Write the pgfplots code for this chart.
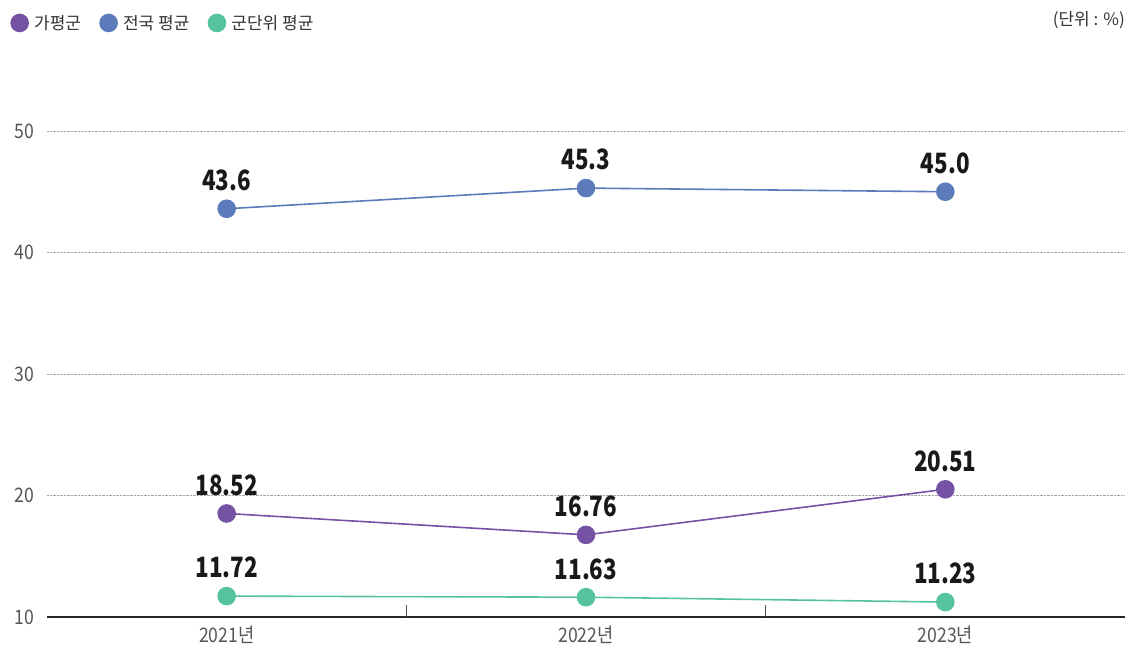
\documentclass[border=0pt]{standalone}
\usepackage{fontspec}
\setmainfont{Noto Sans CJK KR}
\newfontfamily\labelfont[FakeStretch=0.8]{Noto Sans CJK KR}
\newfontfamily\tickfont[FakeStretch=0.88]{Noto Sans CJK KR}
\usepackage{pgfplots}
\pgfplotsset{compat=1.18}
\definecolor{cpurple}{RGB}{117,82,163}
\definecolor{cblue}{RGB}{91,123,186}
\definecolor{cgreen}{RGB}{85,195,156}
\definecolor{tickgray}{RGB}{85,85,85}
\definecolor{legendgray}{RGB}{51,51,51}
\begin{document}
\begin{tikzpicture}
\begin{axis}[
 scale only axis, width=1078pt, height=486pt,
 xmin=-0.5, xmax=2.5, ymin=10, ymax=50,
 clip=false,
 axis x line=bottom, axis y line=left,
 axis line style={-},
 x axis line style={draw=black!85, line width=1.3pt},
 y axis line style={draw=none},
 xtick={0,1,2}, xticklabels={2021년,2022년,2023년},
 ytick={10,20,30,40,50},
 ymajorgrids, grid style={densely dotted, black!35, line width=0.6pt},
 major tick length=0pt,
 extra x ticks={0.5,1.5}, extra x tick labels={},
 extra x tick style={major tick length=12pt, tick align=inside, tick style={black!70, line width=0.8pt}, grid=none},
 tick label style={font=\tickfont\fontsize{20}{22}\selectfont, text=tickgray},
 yticklabel style={xshift=-9pt},
 xticklabel style={yshift=-5pt},
 /pgf/number format/assume math mode=true,
 nodes near coords, point meta=explicit symbolic,
 every node near coord/.append style={font=\labelfont\bfseries\fontsize{28}{30}\selectfont, text=black!90, anchor=south, inner sep=0pt, yshift=17pt},
 legend style={at={(axis description cs:-0.0362,1.2449)}, anchor=north west, draw=none, fill=none, font=\fontsize{17}{19}\selectfont, text=legendgray, nodes={inner sep=1pt}, /tikz/every odd column/.append style={column sep=5pt}, /tikz/every even column/.append style={column sep=18pt}},
 legend columns=3,
 legend cell align=left,
 legend image code/.code={\draw[#1, mark size=8.5pt] plot coordinates {(0pt,0pt)};},
]
\addplot[cpurple, line width=1.6pt, mark=*, mark size=8.5pt, mark options={fill=cpurple, draw=cpurple}]
 coordinates {(0,18.52) [18.52] (1,16.76) [16.76] (2,20.51) [20.51]};
\addlegendentry{가평군}
\addplot[cblue, line width=1.6pt, mark=*, mark size=8.5pt, mark options={fill=cblue, draw=cblue}]
 coordinates {(0,43.6) [43.6] (1,45.3) [45.3] (2,45.0) [45.0]};
\addlegendentry{전국 평균}
\addplot[cgreen, line width=1.6pt, mark=*, mark size=8.5pt, mark options={fill=cgreen, draw=cgreen}]
 coordinates {(0,11.72) [11.72] (1,11.63) [11.63] (2,11.23) [11.23]};
\addlegendentry{군단위 평균}
\node[anchor=east, inner sep=0pt, font=\fontsize{17}{19}\selectfont, text=legendgray] at (axis description cs:1,1.2284) {(단위 : \%)};
\end{axis}
\pgfresetboundingbox
\path (-47pt,-31pt) rectangle (1081pt,617pt);
\end{tikzpicture}
\end{document}
